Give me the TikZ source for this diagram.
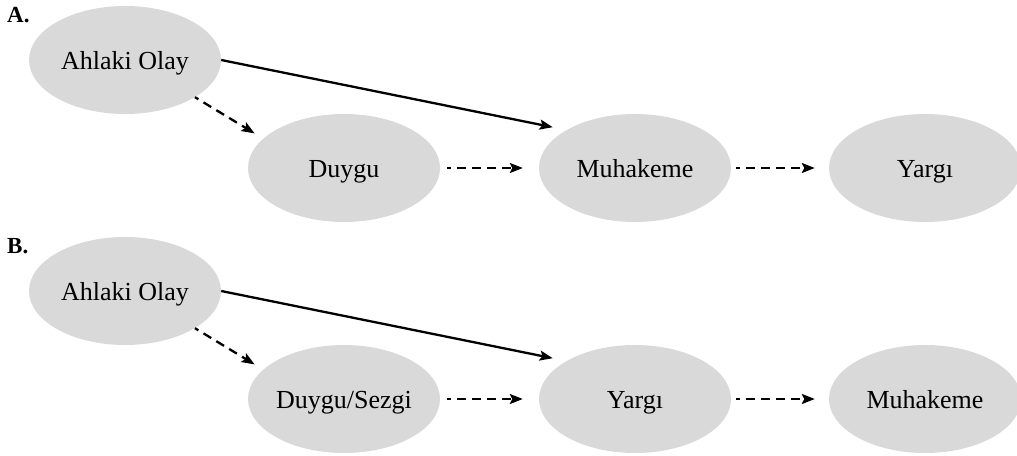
\documentclass[tikz,border=0pt]{standalone}
\usepackage{fontspec}
\setmainfont{Liberation Serif}
\usetikzlibrary{shapes.geometric,arrows.meta}
\begin{document}
\begin{tikzpicture}[x=1pt,y=-1pt,
  oval/.style={ellipse,fill=ovalgray,draw=none,minimum width=192pt,minimum height=108pt,inner sep=0pt,text height=20pt,text depth=2pt,font=\fontsize{26}{30}\selectfont},
  lbl/.style={font=\fontsize{23}{26}\selectfont\bfseries,anchor=base west,inner sep=0pt},
  solidarr/.style={line width=2.3pt,-{Stealth[length=13pt,width=10pt,inset=2.5pt]}},
  dasharr/.style={line width=2.3pt,dash pattern=on 9pt off 6pt,dash phase=5pt,-{Stealth[length=13pt,width=10pt,inset=2.5pt]}}]
\definecolor{ovalgray}{HTML}{D9D9D9}
\useasboundingbox (0,0) rectangle (1017,455);
% Panel A
\node[lbl] (la) at (7,23) {A.};
\node[oval] (a1) at (125,60) {Ahlaki Olay};
\node[oval] (a2) at (344,168) {Duygu};
\node[oval] (a3) at (635,168) {Muhakeme};
\node[oval] (a4) at (925,168) {Yargı};
\draw[solidarr,shorten >=14pt] (a1.east) -- (a3.151);
\draw[dasharr,shorten >=10pt] (a1.-28) -- (a2.160);
\draw[dasharr,shorten <=7pt,shorten >=16pt] (a2.east) -- (a3.west);
\draw[dasharr,shorten <=5pt,shorten >=14pt] (a3.east) -- (a4.west);
% Panel B
\node[lbl] (lb) at (7,253) {B.};
\node[oval] (b1) at (125,291) {Ahlaki Olay};
\node[oval] (b2) at (344,399) {Duygu/Sezgi};
\node[oval] (b3) at (635,399) {Yargı};
\node[oval] (b4) at (925,399) {Muhakeme};
\draw[solidarr,shorten >=14pt] (b1.east) -- (b3.151);
\draw[dasharr,shorten >=10pt] (b1.-28) -- (b2.160);
\draw[dasharr,shorten <=7pt,shorten >=16pt] (b2.east) -- (b3.west);
\draw[dasharr,shorten <=5pt,shorten >=14pt] (b3.east) -- (b4.west);
\end{tikzpicture}
\end{document}
